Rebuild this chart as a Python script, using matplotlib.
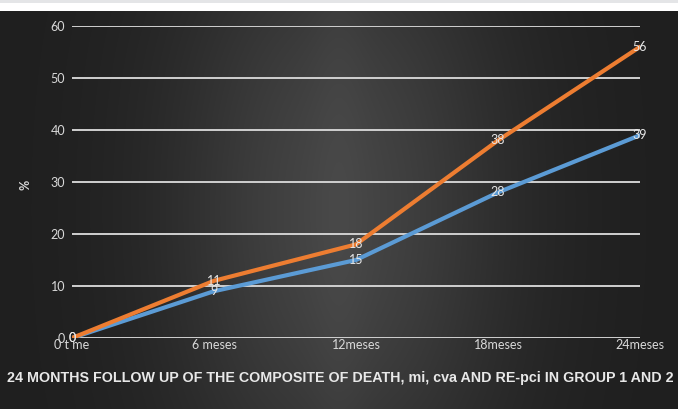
import numpy as np
import matplotlib
matplotlib.use('Agg')
import matplotlib.pyplot as plt

# follow-up points and composite event rates (%) for both groups
periods = ['0 t me', '6 meses', '12meses', '18meses', '24meses']
group_1 = [0, 11, 18, 38, 56]
group_2 = [0, 9, 15, 28, 39]
y_ticks = [0, 10, 20, 30, 40, 50, 60]
y_tick_labels = ['0', '10', '20', '30', '40', '50', '60']

W, H = 678, 409
fig = plt.figure(figsize=(W / 100, H / 100), dpi=100)
fig.patch.set_facecolor('white')

# light strip across the very top
strip = fig.add_axes([0, 1 - 3 / H, 1, 3 / H])
strip.axis('off')
strip.add_patch(plt.Rectangle((0, 0), 1, 1, color='#e4e5e7', transform=strip.transAxes))

# dark backdrop, brighter towards the middle
bg = fig.add_axes([0, 0, 1, 1 - 11 / H])
xx = np.linspace(-1, 1, 400)
yy = np.linspace(-1, 1, 240)
X, Y = np.meshgrid(xx, yy)
shade = 0.12 + 0.15 * np.exp(-(X / 0.5) ** 2) * (1 - 0.3 * Y ** 2)
shade += 0.015 * np.exp(-(X / 0.08) ** 2)
bg.imshow(np.dstack([shade, shade, shade]), aspect='auto', extent=[0, 1, 0, 1], interpolation='bilinear')
bg.axis('off')

ax = fig.add_axes([72 / W, (H - 338) / H, (640 - 72) / W, (338 - 26) / H])
ax.patch.set_alpha(0)
x = np.arange(len(periods))

ax.set_xlim(0, len(periods) - 1)
ax.set_ylim(0, 60)
for t in y_ticks:
    ax.axhline(t, color='#d0d0d0', lw=1.4, zorder=1)

ax.plot(x, group_2, color='#5b9bd5', lw=3, solid_capstyle='round', zorder=3)
ax.plot(x, group_1, color='#ed7d31', lw=3, solid_capstyle='round', zorder=3)

# value labels sit right on the points
for xi, v in zip(x, group_1):
    ax.text(xi, v, str(v), color='#e6e6e6', fontsize=9, family='Lato', ha='center', va='center', zorder=4, clip_on=False)
for xi, v in zip(x, group_2):
    ax.text(xi, v, str(v), color='#e6e6e6', fontsize=9, family='Lato', ha='center', va='center', zorder=4, clip_on=False)

ax.set_yticks(y_ticks)
ax.set_yticklabels(y_tick_labels)
ax.set_xticks(x)
ax.set_xticklabels(periods)
ax.tick_params(axis='both', length=0, colors='#d9d9d9', labelsize=9)
ax.tick_params(axis='y', pad=5)
ax.tick_params(axis='x', pad=1)
for lbl in ax.get_xticklabels() + ax.get_yticklabels():
    lbl.set_family('Lato')
for s in ax.spines.values():
    s.set_visible(False)

fig.text(26 / W, 1 - 185 / H, '%', rotation=90, color='#d9d9d9', fontsize=9, fontweight='bold', family='Lato', ha='center', va='center')
fig.text(340 / W, 1 - 378 / H, '24 MONTHS FOLLOW UP OF THE COMPOSITE OF DEATH, mi, cva AND RE-pci IN GROUP 1 AND 2',
         color='#e8e8e8', fontsize=10.3, fontweight='bold', family='Liberation Sans', ha='center', va='center')

fig.savefig('out.png', dpi=100)
